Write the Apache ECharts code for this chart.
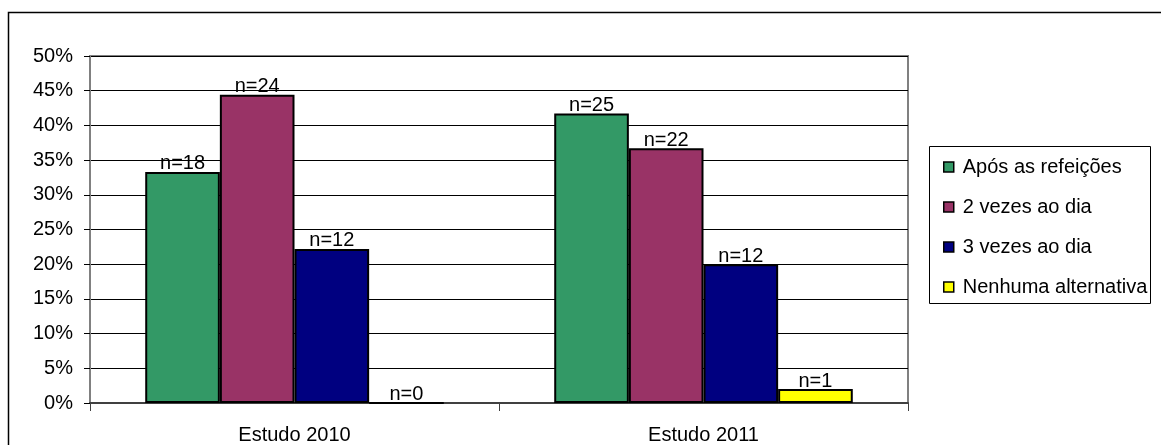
<!DOCTYPE html>
<html>
<head>
<meta charset="utf-8">
<style>
  html, body { margin: 0; padding: 0; background: #ffffff; }
  #chart { width: 1161px; height: 445px; }
</style>
<script src="https://cdn.jsdelivr.net/npm/echarts@6/dist/echarts.min.js"></script>
</head>
<body>
<div id="chart"></div>
<script>
// Study groups along the category axis
const categories = ['Estudo 2010', 'Estudo 2011'];

// Percentage of answers per option, one array per series
const seriesNames = ['Após as refeições', '2 vezes ao dia', '3 vezes ao dia', 'Nenhuma alternativa'];
const aposRefeicoes = [33.3, 41.7];
const duasVezes = [44.4, 36.7];
const tresVezes = [22.2, 20.0];
const nenhuma = [0, 2.0];

// Respondent counts shown above each bar
const countsApos = [18, 25];
const countsDuas = [24, 22];
const countsTres = [12, 12];
const countsNenhuma = [0, 1];

// Y axis ticks (percent)
const yMin = 0, yMax = 50, yStep = 5;

const colors = ['#339966', '#993366', '#000080', '#FFFF00'];
const FONT = 'Liberation Sans, Arial, sans-serif';

function makeSeries(name, values, counts, color) {
  return {
    name: name,
    type: 'bar',
    barGap: '0%',
    barCategoryGap: '27%',
    data: values,
    itemStyle: { color: color, borderColor: '#000000', borderWidth: 2 },
    label: {
      show: true,
      position: 'top',
      distance: -2,
      color: '#000000',
      fontFamily: FONT,
      fontSize: 20,
      formatter: p => 'n=' + counts[p.dataIndex]
    },
    emphasis: { disabled: true },
    animation: false
  };
}

const chart = echarts.init(document.getElementById('chart'), null, { renderer: 'canvas' });

chart.setOption({
  animation: false,
  backgroundColor: '#ffffff',
  color: colors,
  grid: {
    left: 90, right: 253, top: 56, bottom: 42,
    show: true, borderColor: '#808080', borderWidth: 2, backgroundColor: 'transparent'
  },
  xAxis: {
    type: 'category',
    data: categories,
    axisLine: { show: true, lineStyle: { color: '#404040', width: 2 } },
    axisTick: { show: true, length: 8, alignWithLabel: false, lineStyle: { color: '#404040', width: 1 } },
    axisLabel: { color: '#000000', fontFamily: FONT, fontSize: 20, margin: 22 },
    splitLine: { show: false }
  },
  yAxis: {
    type: 'value',
    min: yMin, max: yMax, interval: yStep,
    axisLine: { show: true, lineStyle: { color: '#808080', width: 2 } },
    axisTick: { show: true, length: 6, lineStyle: { color: '#000000', width: 1 } },
    axisLabel: { color: '#000000', fontFamily: FONT, fontSize: 20, margin: 17, formatter: '{value}%' },
    splitLine: { show: true, lineStyle: { color: '#000000', width: 1 } }
  },
  legend: {
    orient: 'vertical',
    left: 943, top: 157,
    padding: 0,
    itemWidth: 10, itemHeight: 10,
    itemGap: 20,
    icon: 'rect',
    itemStyle: { borderColor: '#000000', borderWidth: 1.5 },
    textStyle: { color: '#000000', fontFamily: FONT, fontSize: 20, lineHeight: 20, padding: [0, 0, 0, 4] },
    selectedMode: false,
    data: seriesNames
  },
  graphic: [
    {
      type: 'rect', silent: true, z: -1,
      shape: { x: 8.5, y: 12.5, width: 1300, height: 600 },
      style: { fill: 'none', stroke: '#000000', lineWidth: 1.5 }
    },
    {
      type: 'rect', silent: true,
      shape: { x: 929.5, y: 146.5, width: 221, height: 157 },
      style: { fill: 'none', stroke: '#000000', lineWidth: 1 }
    }
  ],
  series: [
    makeSeries(seriesNames[0], aposRefeicoes, countsApos, colors[0]),
    makeSeries(seriesNames[1], duasVezes, countsDuas, colors[1]),
    makeSeries(seriesNames[2], tresVezes, countsTres, colors[2]),
    makeSeries(seriesNames[3], nenhuma, countsNenhuma, colors[3])
  ]
});
</script>
</body>
</html>
